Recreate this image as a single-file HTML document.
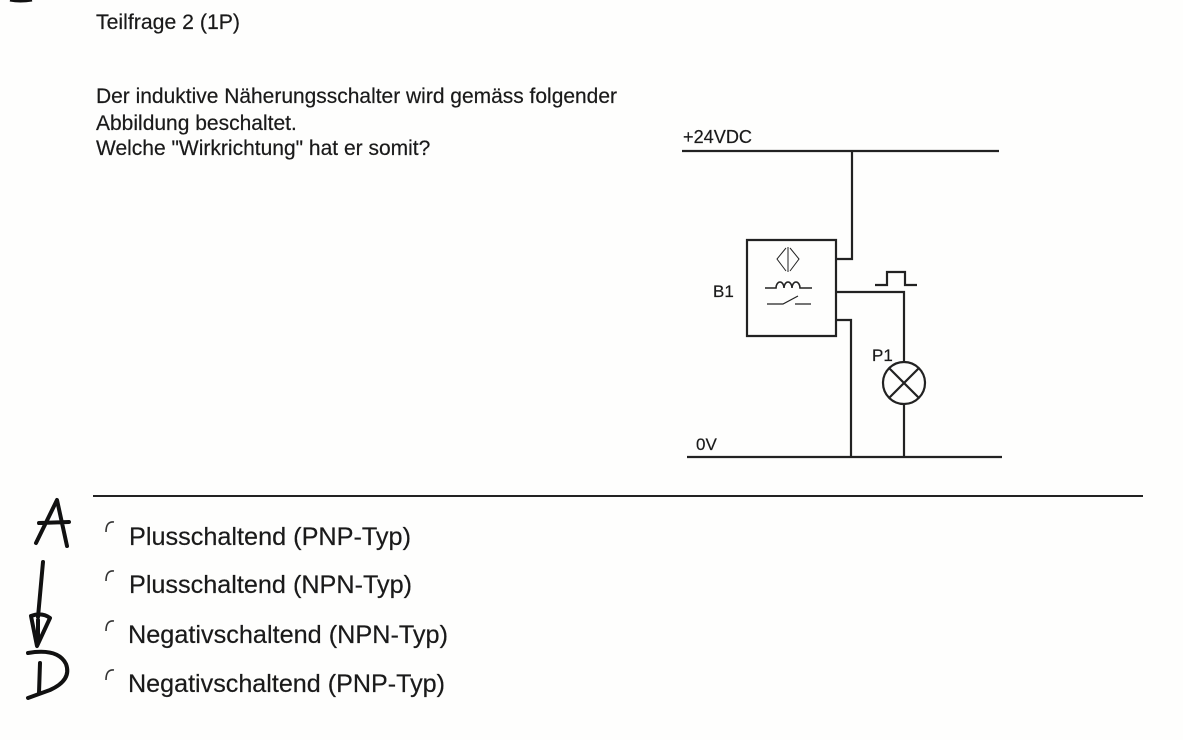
<!DOCTYPE html>
<html lang="de"><head><meta charset="utf-8"><title>Teilfrage 2</title>
<style>html,body{margin:0;padding:0;background:#fefefd}svg{display:block}text{font-family:"Liberation Sans",sans-serif;fill:#1a1a1a;stroke:#1a1a1a;stroke-width:.2}</style></head>
<body>
<svg width="1183" height="740" viewBox="0 0 1183 740" xmlns="http://www.w3.org/2000/svg">
<rect width="1183" height="740" fill="#fefefd"/>
<path d="M10 0Q20 2 32 0" stroke="#111" stroke-width="3" fill="none"/>
<text x="96" y="29" font-size="21" textLength="144" lengthAdjust="spacingAndGlyphs">Teilfrage 2 (1P)</text>
<text x="96" y="103" font-size="21" textLength="521" lengthAdjust="spacingAndGlyphs">Der induktive Näherungsschalter wird gemäss folgender</text>
<text x="96" y="130" font-size="21">Abbildung beschaltet.</text>
<text x="96" y="155" font-size="21">Welche "Wirkrichtung" hat er somit?</text>
<g stroke="#222" stroke-width="2.2" fill="none">
<path d="M682 151H999M852 151V259H836M747 240H836V336H747ZM836 292H904V361M836 320H851V457M687 457H1002M904 405V457"/>
<circle cx="904" cy="383" r="21"/><path d="M889 368L919 398M919 368L889 398"/>
<path d="M875 285H887V272H905V285H917"/>
<path d="M765 288H776A4 6 0 0 1 784 288A4 6 0 0 1 792 288A4 6 0 0 1 800 288H812" stroke-width="1.6"/>
<path d="M767 304H783L798 296M795 304H811" stroke-width="1.2"/>
<path d="M786 248L777 259L786 271M790 248L799 259L790 271M788 247V272" stroke-width="1"/>
</g>
<text x="683" y="143" font-size="18" textLength="69" lengthAdjust="spacingAndGlyphs">+24VDC</text><text x="713" y="297" font-size="17">B1</text><text x="872" y="361" font-size="17">P1</text><text x="696" y="450" font-size="17">0V</text>
<path d="M93 496H1143" stroke="#222" stroke-width="2"/>
<g font-size="25"><text x="129" y="545" textLength="282" lengthAdjust="spacingAndGlyphs">Plusschaltend (PNP-Typ)</text><text x="129" y="593" textLength="283" lengthAdjust="spacingAndGlyphs">Plusschaltend (NPN-Typ)</text><text x="128" y="643" textLength="320" lengthAdjust="spacingAndGlyphs">Negativschaltend (NPN-Typ)</text><text x="128" y="692" textLength="317" lengthAdjust="spacingAndGlyphs">Negativschaltend (PNP-Typ)</text></g>
<g stroke="#333" stroke-width="1.6" fill="none"><path d="M114 522Q106 521 106 532"/><path d="M114 571Q106 570 106 581"/><path d="M114 621Q106 620 106 631"/><path d="M114 670Q106 669 106 680"/></g>
<g stroke="#111" stroke-width="4" fill="none" stroke-linecap="round" stroke-linejoin="round"><path d="M36 543L57 500L67 546M39 523L69 522"/><path d="M43 562L38 617M31 616Q42 612 50 618L37 646L31 616M38 620V642"/><path d="M28 653Q58 648 66 664Q72 680 50 690L28 698M40 663L39 693"/></g>
</svg>
</body></html>
